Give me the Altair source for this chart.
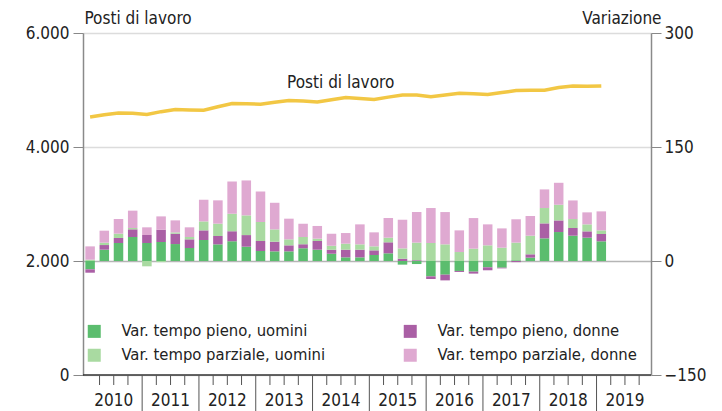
import altair as alt
import pandas as pd

years = ["2010", "2011", "2012", "2013", "2014", "2015", "2016", "2017", "2018", "2019"]
qnames = ["Q1", "Q2", "Q3", "Q4"]
all_quarters = [y + q for y in years for q in qnames]
quarters = all_quarters[:37]  # 2010Q1 .. 2019Q1

posti = [4528, 4565, 4598, 4590, 4569, 4620, 4657, 4650, 4645, 4705, 4762, 4758,
         4750, 4785, 4815, 4805, 4791, 4830, 4868, 4850, 4833, 4875, 4914, 4914,
         4880, 4912, 4943, 4935, 4920, 4955, 4990, 4995, 4996, 5043, 5071, 5065, 5071]

pieno_uomini = [-11, 14.9, 23.7, 31.6, 23.7, 25, 22.3, 17.1, 27.6, 21.9, 25.9, 18.8,
                13.1, 12.7, 12.7, 16.7, 14.9, 9.6, 4.8, 4.8, 7.9, 10.1, -4.8, -4,
                -20.2, -18, -13.1, -14, -8.3, -8.8, 1, 4.4, 29.8, 38.1, 33.3, 30.7, 25.9]
pieno_donne = [-4.4, 6.1, 6.6, 10.1, 10.5, 16.2, 13.6, 11.4, 12.7, 11, 13.1, 15.3,
               13.1, 12.7, 7.9, 5.3, 11.4, 5.3, 10.1, 10.1, 6.1, 14.5, 3, 1,
               -3.5, -7.5, -1.3, -2.6, -3.9, -0.9, -1.5, 4.4, 19.7, 15.3, 10.1, 8.3, 9.6]
parziale_uomini = [1.75, 3.1, 5.7, 1.75, -7, -1.5, 1.75, 3.1, 11.8, 16.2, 23.2, 25.9,
                   25, 16.2, 7.9, 9.6, 3.1, 5.3, 7.9, 7, 5.3, 6.1, 13.6, 23.2,
                   23.7, 21.9, 11.8, 16.2, 20.6, 17.5, 23.2, 24.5, 20.2, 20.6, 11.8, 9.2, 4.8]
parziale_donne = [17.5, 15.8, 19.3, 22.8, 10.1, 17.5, 15.8, 12.7, 28.5, 30.7, 42.5, 46,
                  40.3, 35, 27.2, 17.5, 16.7, 15.8, 14, 26.3, 18.4, 25.9, 37.7, 40.3,
                  46, 42.5, 28.5, 40.3, 27.6, 25.4, 30.7, 25.9, 24.5, 28.9, 24.5, 15.8, 25]

# stacking order (from zero outwards)
series_names = ["Var. tempo pieno, uomini", "Var. tempo pieno, donne",
                "Var. tempo parziale, uomini", "Var. tempo parziale, donne"]
series_values = [pieno_uomini, pieno_donne, parziale_uomini, parziale_donne]
# legend order (filled column by column)
legend_names = ["Var. tempo pieno, uomini", "Var. tempo parziale, uomini",
                "Var. tempo pieno, donne", "Var. tempo parziale, donne"]
legend_colors = ["#5bbd6e", "#a9daa1", "#aa5fa5", "#dfa9d1"]

rows = []
for rank, (name, vals) in enumerate(zip(series_names, series_values)):
    for q, v in zip(quarters, vals):
        rows.append({"q": q, "serie": name, "v": v, "rank": rank})
bars_df = pd.DataFrame(rows)
line_df = pd.DataFrame({"q": quarters, "posti": posti})
label_df = pd.DataFrame({"q": ["2014Q3"], "posti": [5118], "txt": ["Posti di lavoro"]})
sep_df = pd.DataFrame({"q": [y + "Q1" for y in years[1:]]})
qtick_df = pd.DataFrame({"q": [y + q for y in years for q in qnames[1:]]})
year_df = pd.DataFrame({"q": [y + "Q3" for y in years], "year": years})
base_df = pd.DataFrame({"q": ["2010Q1"]})

FONT = "DejaVu Sans Condensed, DejaVu Sans, sans-serif"
W, H = 568, 342
xscale = alt.Scale(domain=all_quarters, paddingInner=0.33, paddingOuter=0.165)
yleft = alt.Scale(domain=[0, 6000], nice=False)

left_axis = alt.Axis(orient="left", values=[0, 2000, 4000, 6000], tickSize=10, tickColor="#888",
                     domainColor="#8a8a8a", domainWidth=1.5, grid=False,
                     labelExpr="replace(format(datum.value, ','), ',', '.')",
                     labelFontSize=17, labelFont=FONT, labelColor="#222", labelPadding=4,
                     titleAngle=0, titleX=1, titleY=-6, titleAlign="left", titleBaseline="bottom",
                     titleFont=FONT, titleFontSize=17, titleFontWeight="normal", titleColor="#222")

bars = alt.Chart(bars_df).mark_bar().encode(
    x=alt.X("q:O", scale=xscale, title=None, axis=None),
    y=alt.Y("v:Q", stack=True, scale=alt.Scale(domain=[-150, 300], nice=False), title="Variazione",
            axis=alt.Axis(orient="right", values=[-150, 0, 150, 300], tickSize=10, tickColor="#888",
                          domainColor="#8a8a8a", domainWidth=1.5, labelFontSize=17, labelFont=FONT,
                          labelColor="#222", labelPadding=3,
                          grid=True,
                          gridColor={"condition": {"test": "datum.value == 0", "value": "#b5b5b5"}, "value": "#dcdcdc"},
                          gridWidth=1.5,
                          titleAngle=0, titleX=10, titleY=-6, titleAlign="right", titleBaseline="bottom",
                          titleFont=FONT, titleFontSize=17, titleFontWeight="normal", titleColor="#222")),
    color=alt.Color("serie:N", scale=alt.Scale(domain=legend_names, range=legend_colors),
                    legend=alt.Legend(orient="none", legendX=3, legendY=290, columns=2, title=None,
                                      symbolType="square", symbolSize=169, symbolStrokeWidth=0,
                                      labelFontSize=16.5, labelFont=FONT, labelColor="#222", labelLimit=400,
                                      labelOffset=19, rowPadding=7, columnPadding=76)),
    order=alt.Order("rank:Q", sort="ascending"),
)

base_line = alt.Chart(base_df).mark_rule(color="#333", strokeWidth=1.5).encode(
    x=alt.value(0), x2=alt.value(W), y=alt.value(H),
)

seps = alt.Chart(sep_df).mark_rule(color="#555", strokeWidth=1).encode(
    x=alt.X("q:O", scale=xscale, title=None, axis=None, bandPosition=0),
    y=alt.value(H),
    y2=alt.value(H + 36),
)

qticks = alt.Chart(qtick_df).mark_rule(color="#555", strokeWidth=1).encode(
    x=alt.X("q:O", scale=xscale, title=None, axis=None, bandPosition=0),
    y=alt.value(H),
    y2=alt.value(H + 10),
)

year_labels = alt.Chart(year_df).mark_text(font=FONT, fontSize=17, color="#222", baseline="middle").encode(
    x=alt.X("q:O", scale=xscale, title=None, axis=None, bandPosition=0),
    y=alt.value(H + 26),
    text="year:N",
)

line = alt.Chart(line_df).mark_line(color="#f2c744", strokeWidth=3.5).encode(
    x=alt.X("q:O", scale=xscale, title=None, axis=None),
    y=alt.Y("posti:Q", scale=yleft, title="Posti di lavoro", axis=left_axis),
)

label = alt.Chart(label_df).mark_text(font=FONT, fontSize=17, color="#222", dx=-5).encode(
    x=alt.X("q:O", scale=xscale, title=None, axis=None),
    y=alt.Y("posti:Q", scale=yleft, axis=None),
    text="txt:N",
)

chart = alt.layer(bars, line, label, base_line, seps, qticks, year_labels).resolve_scale(
    y="independent"
).properties(
    width=W, height=H,
    autosize=alt.AutoSizeParams(type="none"),
    padding={"left": 75, "top": 25, "right": 60, "bottom": 36},
).configure_view(stroke=None).configure(font=FONT)

chart.save("out.html", embed_options={"renderer": "svg", "actions": False})
